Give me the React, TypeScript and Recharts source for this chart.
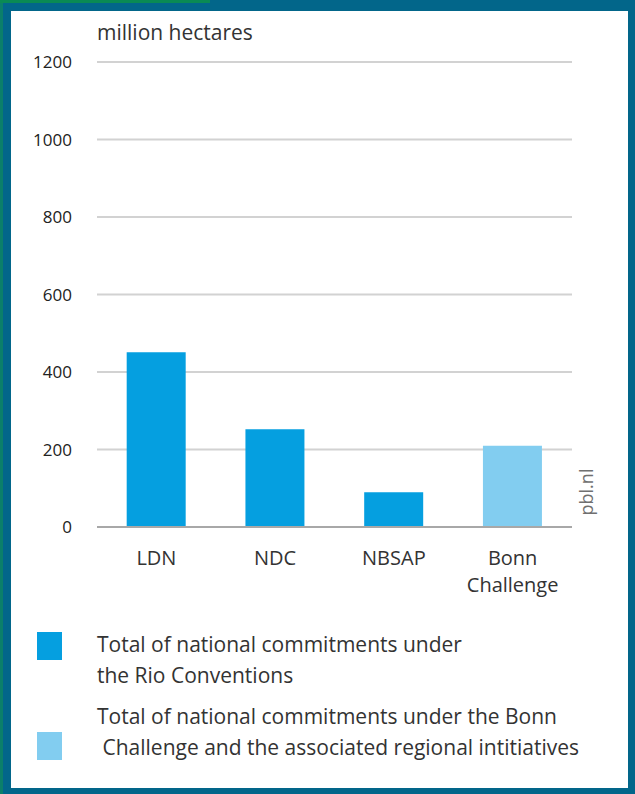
import { BarChart, Bar, XAxis, YAxis, CartesianGrid, Cell } from 'recharts';

// million hectares per commitment type
const categories = ['LDN', 'NDC', 'NBSAP', 'Bonn Challenge'];
const commitments = [451, 252, 90, 210];
const groups = ['rio', 'rio', 'rio', 'bonn'];
const yTicks = [0, 200, 400, 600, 800, 1000, 1200];

const legendItems = [
  { key: 'rio', label: ['Total of national commitments under', 'the Rio Conventions'] },
  { key: 'bonn', label: ['Total of national commitments under the Bonn', '\u00a0Challenge and the associated regional intitiatives'] },
];

const colors: { [k: string]: string } = { rio: '#059fe0', bonn: '#82cdf0' };

const FONT = '"Open Sans", "Noto Sans", sans-serif';

const data = categories.map((name, i) => ({ name, value: commitments[i], group: groups[i] }));

function CategoryTick(props: any) {
  const { x, y, payload } = props;
  const words: string[] = payload.value === 'Bonn Challenge' ? ['Bonn', 'Challenge'] : [payload.value];
  return (
    <g transform={`translate(${x},${y})`}>
      {words.map((w, i) => (
        <text key={w} x={0} y={30 + i * 27} textAnchor="middle" fill="#333" fontSize={20} fontFamily={FONT}>
          {w}
        </text>
      ))}
    </g>
  );
}

export default function App() {
  return (
    <div
      style={{
        position: 'absolute',
        left: 0,
        top: 0,
        width: 635,
        height: 794,
        background: '#02668a',
        fontFamily: FONT,
      }}
    >
      <div style={{ position: 'absolute', left: 0, top: 0, width: 3, height: 794, background: '#0b7f6a' }} />
      <div style={{ position: 'absolute', left: 0, top: 0, width: 210, height: 3, background: '#0a8a55' }} />
      <div
        style={{
          position: 'absolute',
          left: 11,
          top: 11,
          width: 617,
          height: 777,
          background: '#fff',
        }}
      />
      <div style={{ position: 'absolute', left: 97, top: 18, fontSize: 21, color: '#333' }}>million hectares</div>
      <div style={{ position: 'absolute', left: 0, top: 0 }}>
        <BarChart width={635} height={600} data={data} margin={{ top: 62, right: 63, bottom: 13, left: 0 }} barCategoryGap="25%">
          <CartesianGrid vertical={false} stroke="#d2d2d2" strokeWidth={2} />
          <XAxis
            dataKey="name"
            height={60}
            axisLine={{ stroke: '#a8a8a8', strokeWidth: 2 }}
            tickLine={false}
            interval={0}
            tick={<CategoryTick />}
          />
          <YAxis
            width={97}
            domain={[0, 1200]}
            ticks={yTicks}
            axisLine={false}
            tickLine={false}
            tickSize={0}
            tickMargin={25}
            tick={{ fill: '#222', fontSize: 17, fontFamily: FONT }}
          />
          <Bar dataKey="value" isAnimationActive={false}>
            {data.map((d) => (
              <Cell key={d.name} fill={colors[d.group]} />
            ))}
          </Bar>
          <text
            x={593}
            y={492}
            transform="rotate(-90 593 492)"
            textAnchor="middle"
            fill="#707070"
            fontSize={18}
            fontFamily={FONT}
          >
            pbl.nl
          </text>
        </BarChart>
      </div>
      {legendItems.map((item, i) => (
        <div key={item.key}>
          <div style={{ position: 'absolute', left: 37, top: 632 + i * 100, width: 25, height: 28, background: colors[item.key] }} />
          <div
            style={{
              position: 'absolute',
              left: 97,
              top: i === 0 ? 629 : 701,
              width: 530,
              fontSize: 21,
              lineHeight: '31px',
              color: '#333',
              whiteSpace: 'nowrap',
            }}
          >
            {item.label.map((l) => (
              <div key={l}>{l}</div>
            ))}
          </div>
        </div>
      ))}
    </div>
  );
}
